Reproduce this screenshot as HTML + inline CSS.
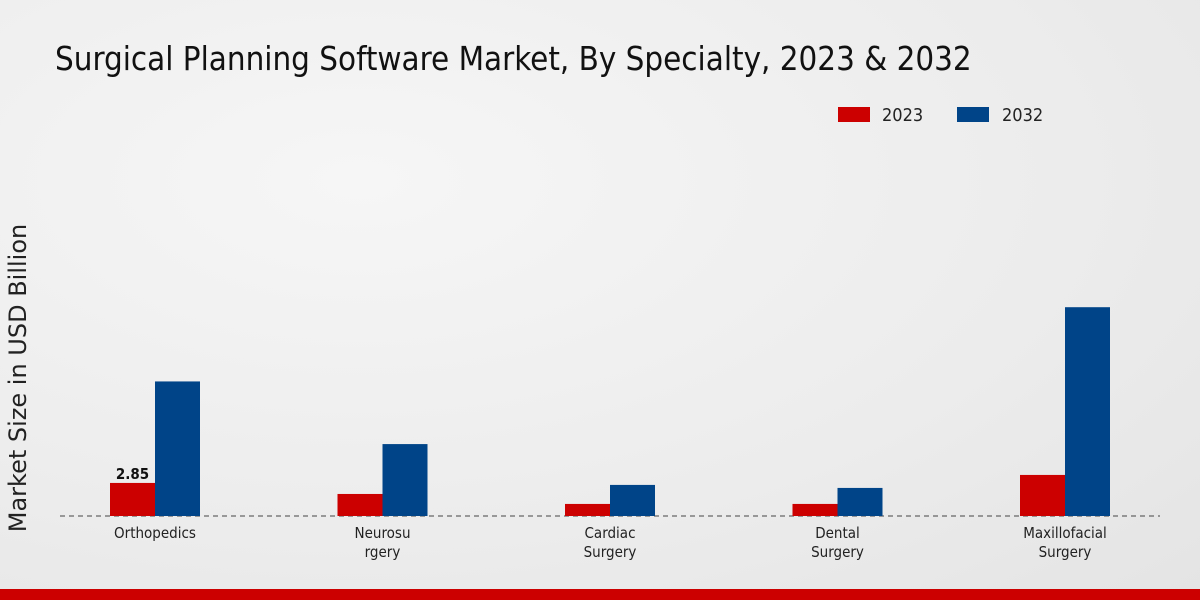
<!DOCTYPE html>
<html><head><meta charset="utf-8"><style>
body{margin:0;width:1200px;height:600px;overflow:hidden;font-family:"DejaVu Sans Condensed","Liberation Sans",sans-serif;}
#bg{position:absolute;left:0;top:0;width:1200px;height:600px;background:radial-gradient(ellipse at 30% 30%,#f6f6f6 0%,#ececec 60%,#e4e4e4 100%);}
</style></head><body>
<div id="bg"></div>
<svg id="c" width="1200" height="600" style="position:absolute;left:0;top:0">
<text x="55" y="70" font-size="32.8" fill="#111" font-family="DejaVu Sans Condensed, Liberation Sans, sans-serif">Surgical Planning Software Market, By Specialty, 2023 &amp; 2032</text>
<g>
<rect x="838" y="107" width="32" height="15" fill="#cc0000"/>
<text x="882" y="121" font-size="18" fill="#222">2023</text>
<rect x="957" y="107" width="32" height="15" fill="#004488"/>
<text x="1002" y="121" font-size="18" fill="#222">2032</text>
</g>
<text transform="translate(26,378) rotate(-90)" text-anchor="middle" font-size="24" fill="#222" font-family="DejaVu Sans, sans-serif">Market Size in USD Billion</text>
<line x1="60" y1="516" x2="1160" y2="516" stroke="#444" stroke-dasharray="5,4"/>
<g id="bars"></g>
<rect x="0" y="589" width="1200" height="11" fill="#cc0000"/>
</svg>
<script>
const categories=[["Orthopedics"],["Neurosu","rgery"],["Cardiac","Surgery"],["Dental","Surgery"],["Maxillofacial","Surgery"]];
const values2023=[2.85,1.9,1.04,1.04,3.54];
const values2032=[11.6,6.2,2.68,2.42,18.0];
const labels2023=["2.85","","","",""];
const ns="http://www.w3.org/2000/svg";
const g=document.getElementById('bars');
const base=516, scale=11.6, bw=45;
function xc(i){return 155+i*227.5;}
function y(v){return base-v*scale;}
function mk(t,a){const e=document.createElementNS(ns,t);for(const k in a)e.setAttribute(k,a[k]);g.appendChild(e);return e;}
categories.forEach((c,i)=>{
 let r=mk('rect',{x:xc(i)-bw,y:y(values2023[i]),width:bw,height:base-y(values2023[i]),fill:'#cc0000'});
 
 
 r=mk('rect',{x:xc(i),y:y(values2032[i]),width:bw,height:base-y(values2032[i]),fill:'#004488'});
 
 
 if(labels2023[i]){const t=mk('text',{x:xc(i)-bw/2,y:y(values2023[i])-4,'text-anchor':'middle','font-size':15,'font-weight':'bold',fill:'#111'});t.textContent=labels2023[i];
 
 }
 c.forEach((l,j)=>{const t=mk('text',{x:xc(i),y:538+j*19,'text-anchor':'middle','font-size':15,fill:'#222'});t.textContent=l;
 
 });
});
</script>
</body></html>
